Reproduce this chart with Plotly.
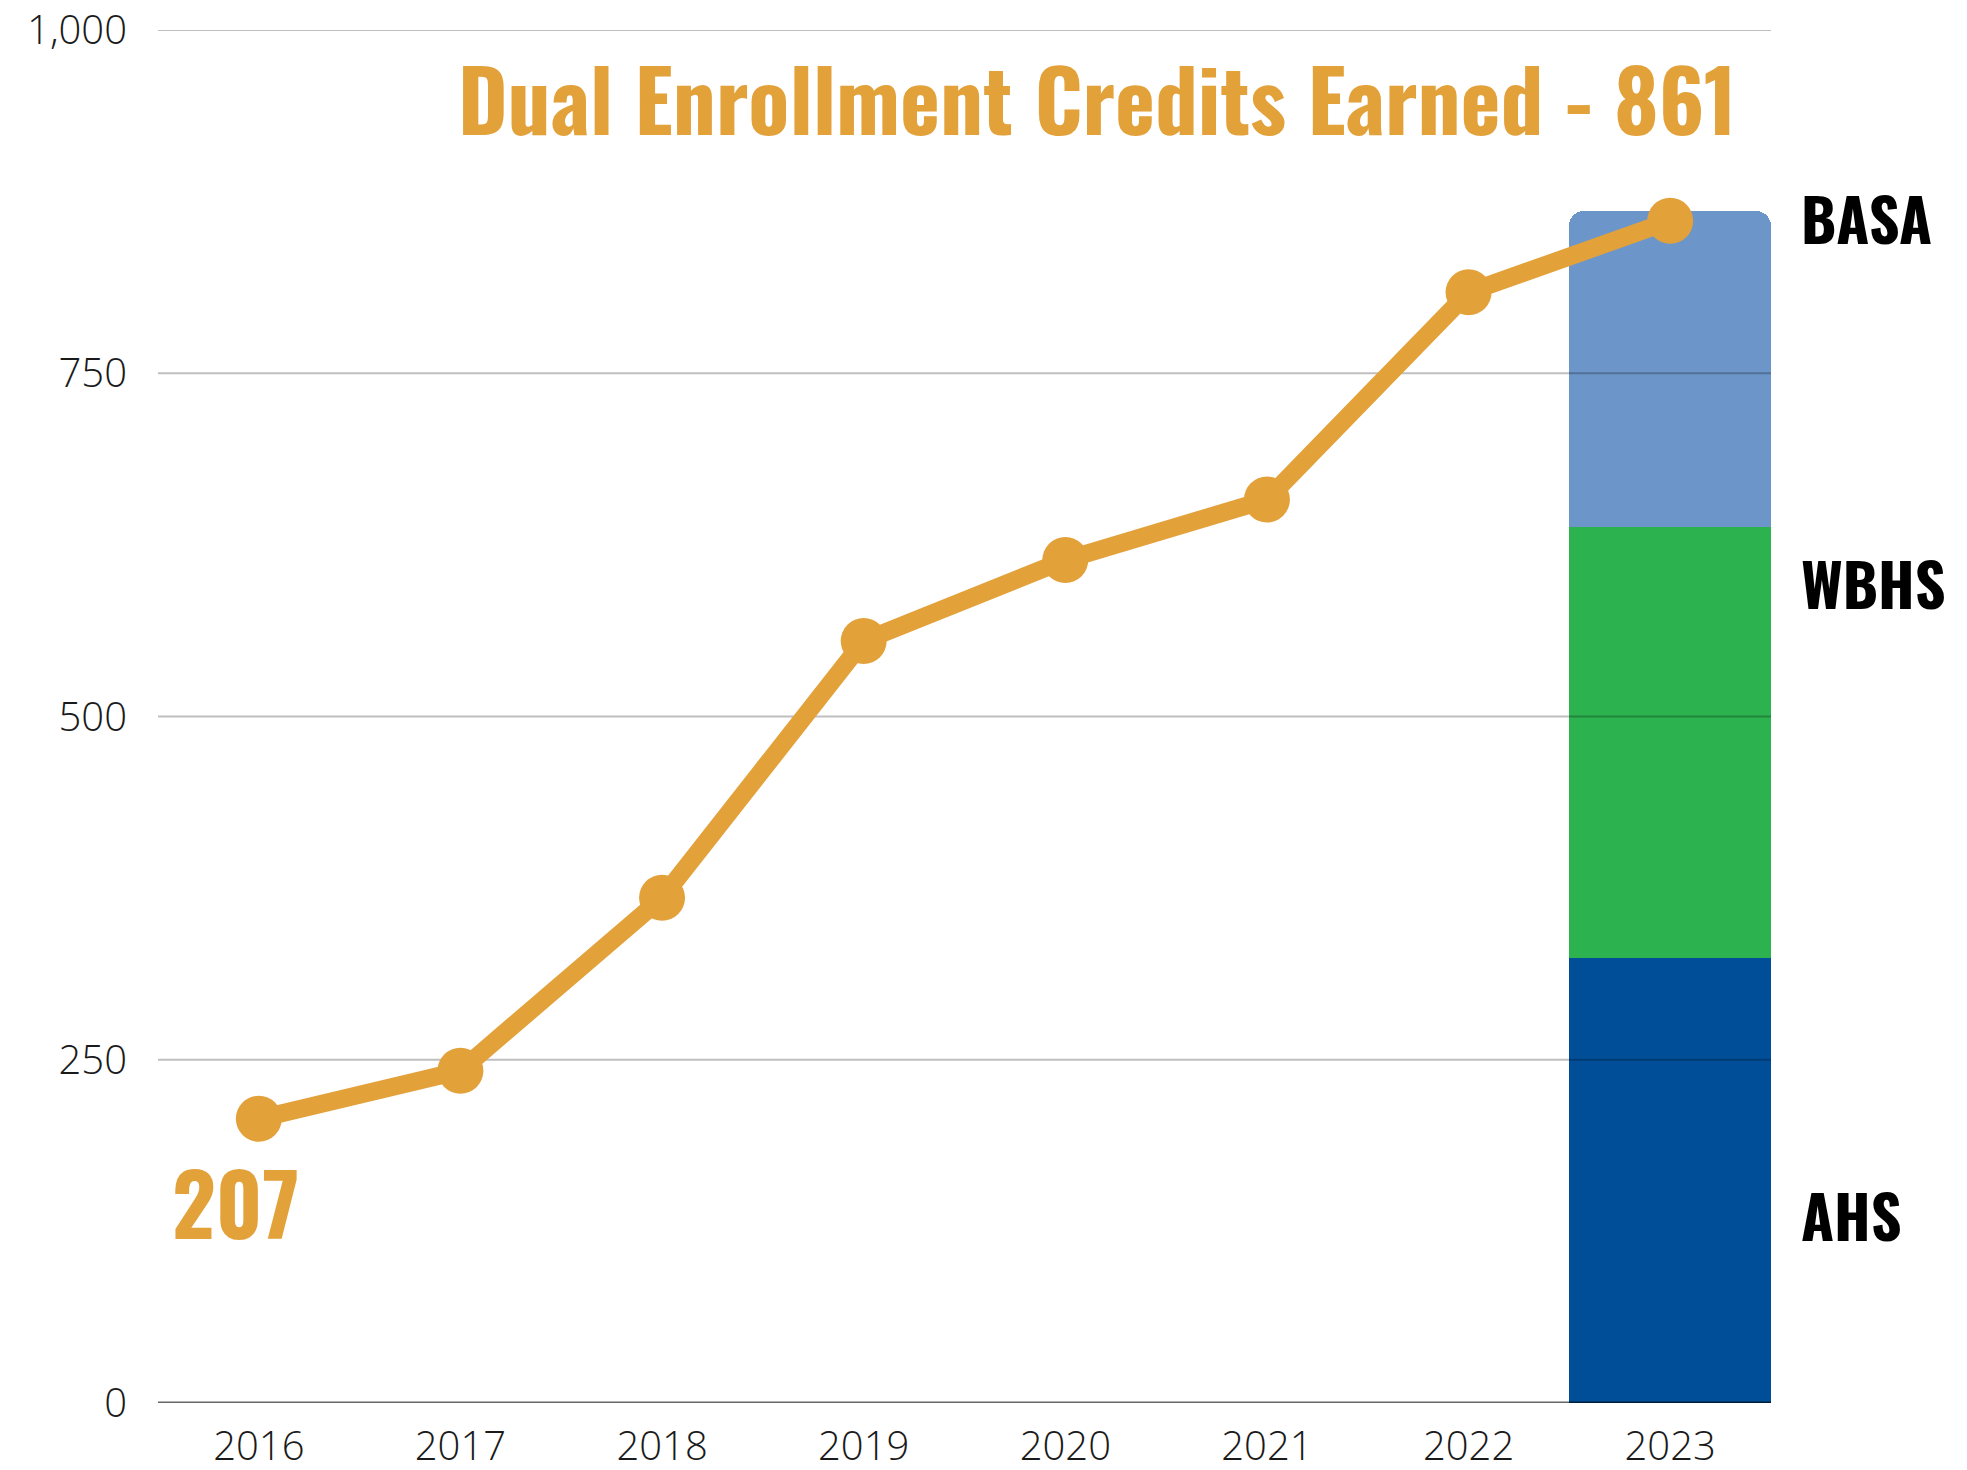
import plotly.graph_objects as go

# data
years = ["2016", "2017", "2018", "2019", "2020", "2021", "2022", "2023"]
credits = [207, 242, 368, 555, 614, 658, 809, 861]

bar_year = "2023"
schools = ["AHS", "WBHS", "BASA"]
school_credits = [324, 314, 230]
school_colors = ["#004E98", "#2CB34F", "#6C96C9"]

y_ticks = [0, 250, 500, 750, 1000]
y_tick_labels = ["0", "250", "500", "750", "1,000"]

ORANGE = "#E3A13A"
TITLE_FONT = "Liberation Sans Narrow, Oswald, Arial Narrow, sans-serif"
TICK_FONT = dict(family="Open Sans, sans-serif", size=40, color="#1a1a1a", weight=300)

xpos = list(range(len(years)))
bar_x = years.index(bar_year)

fig = go.Figure()

# stacked bar for the last year (stack top gets the rounded corners)
for name, val, col in zip(schools, school_credits, school_colors):
    fig.add_trace(
        go.Bar(
            x=[bar_x],
            y=[val],
            name=name,
            width=1.0,
            marker=dict(color=col, line_width=0),
            showlegend=False,
        )
    )

# gridlines drawn as traces so they sit above the bar but under the line
x_lo, x_hi = -0.5, len(years) - 0.5
for t in y_ticks:
    fig.add_trace(
        go.Scatter(
            x=[x_lo, x_hi],
            y=[t, t],
            mode="lines",
            line=dict(
                color="rgba(0,0,0,0.6)" if t == 0 else "rgba(0,0,0,0.25)",
                width=3 if t == 0 else 2,
            ),
            hoverinfo="skip",
            showlegend=False,
        )
    )

fig.add_trace(
    go.Scatter(
        x=xpos,
        y=credits,
        mode="lines+markers",
        line=dict(color=ORANGE, width=18),
        marker=dict(color=ORANGE, size=46),
        name="Credits",
        showlegend=False,
    )
)

fig.add_annotation(
    xref="paper", x=1, xshift=-33, xanchor="right",
    y=951, yanchor="middle",
    text=f"Dual Enrollment Credits Earned - {credits[-1]}",
    showarrow=False,
    font=dict(family=TITLE_FONT, size=85, color=ORANGE, weight="bold"),
)

fig.add_annotation(
    x=0, xshift=-23, y=147, yanchor="middle",
    text=str(credits[0]),
    showarrow=False,
    font=dict(family=TITLE_FONT, size=85, color=ORANGE, weight="bold"),
)

label_y = {"BASA": 864, "WBHS": 598, "AHS": 138}
for name in schools:
    fig.add_annotation(
        xref="paper", x=1, xshift=28, xanchor="left",
        y=label_y[name], yanchor="middle",
        text=name,
        showarrow=False,
        font=dict(family=TITLE_FONT, size=60, color="#000000", weight="bold"),
    )

# page body adds an 8px offset, so the figure is a touch smaller than the window
fig.update_layout(
    width=1959,
    height=1462,
    margin=dict(l=150, r=196, t=22, b=67, autoexpand=False),
    plot_bgcolor="white",
    paper_bgcolor="white",
    barmode="stack",
    barcornerradius=15,
    bargap=0,
)

fig.update_xaxes(
    range=[x_lo, x_hi],
    tickvals=xpos,
    ticktext=years,
    showgrid=False,
    zeroline=False,
    showline=False,
    ticks="",
    ticklabelstandoff=16,
    ticklabeloverflow="allow",
    tickfont=TICK_FONT,
    automargin=False,
    fixedrange=True,
)
fig.update_yaxes(
    range=[0, 1000],
    tickvals=y_ticks,
    ticktext=y_tick_labels,
    showgrid=False,
    zeroline=False,
    showline=False,
    ticks="",
    ticklabelstandoff=30,
    ticklabeloverflow="allow",
    tickfont=TICK_FONT,
    automargin=False,
    fixedrange=True,
)

fig.write_html("out.html")
